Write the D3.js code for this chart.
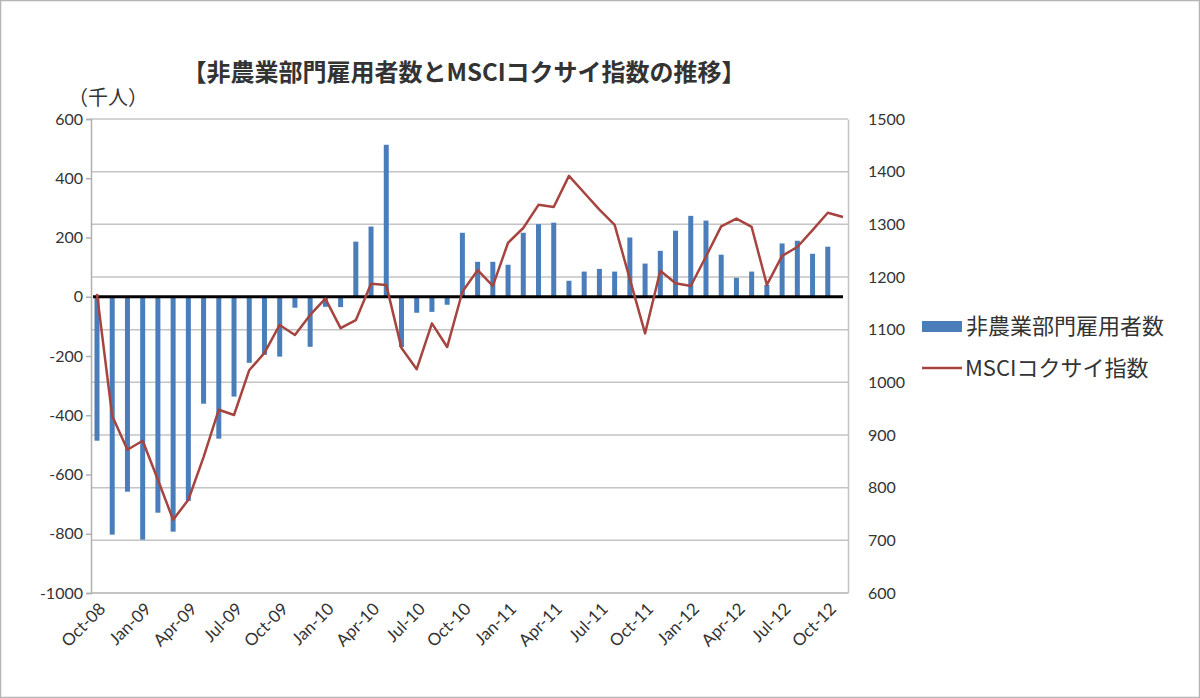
<!DOCTYPE html>
<html>
<head>
    <meta charset="utf-8">
    <script src="https://d3js.org/d3.v7.min.js"></script>
    <title>非農業部門雇用者数とMSCIコクサイ指数の推移</title>
    <style>
        body { margin: 0; background: #fff; }
        svg text { font-family: Lato, "Noto Sans", sans-serif; fill: #333; }
        .jp { font-family: "Noto Sans CJK JP", sans-serif; }
    </style>
</head>
<body>
<svg id="chart"></svg>
<script>
    // months on the category axis
    var months = ["Oct-08","Nov-08","Dec-08",
        "Jan-09","Feb-09","Mar-09","Apr-09","May-09","Jun-09","Jul-09","Aug-09","Sep-09","Oct-09","Nov-09","Dec-09",
        "Jan-10","Feb-10","Mar-10","Apr-10","May-10","Jun-10","Jul-10","Aug-10","Sep-10","Oct-10","Nov-10","Dec-10",
        "Jan-11","Feb-11","Mar-11","Apr-11","May-11","Jun-11","Jul-11","Aug-11","Sep-11","Oct-11","Nov-11","Dec-11",
        "Jan-12","Feb-12","Mar-12","Apr-12","May-12","Jun-12","Jul-12","Aug-12","Sep-12","Oct-12","Nov-12"]

    // 非農業部門雇用者数 (千人), Oct-08 .. Oct-12
    var payrolls = [-486,-803,-658,
        -820,-729,-793,-689,-361,-479,-337,-223,-196,-202,-37,-169,
        -34,-35,186,237,513,-170,-54,-51,-27,216,118,118,
        108,216,245,250,54,85,94,85,200,112,155,223,
        273,257,142,64,85,40,180,189,145,169]

    // MSCIコクサイ指数, Oct-08 .. Nov-12
    var msci = [1168,936,872,
        889,815,739,777,858,948,938,1023,1056,1109,1090,1128,
        1159,1103,1118,1187,1185,1065,1025,1112,1067,1172,1213,1183,
        1265,1293,1337,1333,1392,1360,1328,1299,1196,1093,1212,1188,
        1183,1239,1296,1311,1295,1185,1240,1257,1289,1322,1314]

    var leftTicks = [-1000,-800,-600,-400,-200,0,200,400,600]
    var rightTicks = [600,700,800,900,1000,1100,1200,1300,1400,1500]
    var xTickLabels = ["Oct-08","Jan-09","Apr-09","Jul-09","Oct-09","Jan-10","Apr-10","Jul-10","Oct-10",
        "Jan-11","Apr-11","Jul-11","Oct-11","Jan-12","Apr-12","Jul-12","Oct-12"]

    var W = 1200, H = 698
    var svg = d3.select("#chart").attr("width", W).attr("height", H)

    svg.append("rect").attr("x", 0.5).attr("y", 0.5).attr("width", W - 1).attr("height", H - 1)
        .attr("fill", "#fff").attr("stroke", "#b5b5b5").attr("stroke-width", 1.5)

    var plot = {left: 91, right: 848, top: 119, bottom: 593}

    var x = d3.scalePoint().domain(months).range([97, 843])
    var yL = d3.scaleLinear().domain([-1000, 600]).range([plot.bottom, plot.top])
    var yR = d3.scaleLinear().domain([600, 1500]).range([plot.bottom, plot.top])
    var plain = d => String(d)

    // gridlines follow the right axis
    svg.append("g").selectAll("line").data(rightTicks.slice(1)).join("line")
        .attr("x1", plot.left).attr("x2", plot.right)
        .attr("y1", d => yR(d)).attr("y2", d => yR(d))
        .attr("stroke", "#c4c4c4").attr("stroke-width", 1.5)

    // left axis
    var gL = svg.append("g").attr("transform", "translate(" + plot.left + ",0)")
        .call(d3.axisLeft(yL).tickValues(leftTicks).tickFormat(plain).tickSize(5).tickPadding(3))
    gL.select(".domain").attr("stroke", "#b0b0b0").attr("stroke-width", 1.5)
    gL.selectAll(".tick line").attr("stroke", "#b0b0b0").attr("stroke-width", 1.5)
    gL.selectAll("text").attr("font-size", 16).attr("fill", "#333")

    // right axis
    var gR = svg.append("g").attr("transform", "translate(" + plot.right + ",0)")
        .call(d3.axisRight(yR).tickValues(rightTicks).tickFormat(plain).tickSize(0).tickPadding(20))
    gR.select(".domain").attr("stroke", "#c4c4c4").attr("stroke-width", 1.5)
    gR.selectAll("text").attr("font-size", 16).attr("fill", "#333")

    // bottom axis line
    svg.append("line").attr("x1", plot.left).attr("x2", plot.right)
        .attr("y1", plot.bottom).attr("y2", plot.bottom)
        .attr("stroke", "#b0b0b0").attr("stroke-width", 1.5)

    var gX = svg.append("g").attr("transform", "translate(0," + (plot.bottom + 8) + ")")
        .call(d3.axisBottom(x).tickValues(xTickLabels).tickSize(0).tickPadding(0))
    gX.select(".domain").remove()
    gX.selectAll("text")
        .attr("font-size", 17).attr("fill", "#333")
        .attr("text-anchor", "end")
        .attr("dy", "0.75em").attr("dx", "0")
        .attr("transform", "rotate(-45)")

    // bars
    var bw = 5
    svg.append("g").selectAll("rect").data(payrolls).join("rect")
        .attr("x", (d, i) => x(months[i]) - bw / 2)
        .attr("width", bw)
        .attr("y", d => Math.min(yL(d), yL(0)))
        .attr("height", d => Math.abs(yL(d) - yL(0)))
        .attr("fill", "#4a7ebb")

    // zero line
    svg.append("line").attr("x1", 93).attr("x2", 843)
        .attr("y1", yL(0)).attr("y2", yL(0))
        .attr("stroke", "#000").attr("stroke-width", 3)

    // MSCI line
    var line = d3.line().x((d, i) => x(months[i])).y(d => yR(d))
    svg.append("path").datum(msci).attr("d", line)
        .attr("fill", "none").attr("stroke", "#a6443f").attr("stroke-width", 2.5)
        .attr("stroke-linejoin", "round")

    // title
    svg.append("text").attr("class", "jp").attr("x", 464).attr("y", 81)
        .attr("text-anchor", "middle").attr("font-size", 24).attr("font-weight", 700)
        .attr("fill", "#222").text("【非農業部門雇用者数とMSCIコクサイ指数の推移】")

    // unit label
    svg.append("text").attr("class", "jp").attr("x", 68).attr("y", 105)
        .attr("font-size", 20).attr("fill", "#333").text("（千人）")

    // legend
    var lg = svg.append("g")
    lg.append("rect").attr("x", 922).attr("y", 321).attr("width", 40).attr("height", 11).attr("fill", "#4a7ebb")
    lg.append("text").attr("class", "jp").attr("x", 966).attr("y", 334)
        .attr("font-size", 22).attr("fill", "#222").text("非農業部門雇用者数")
    lg.append("line").attr("x1", 922).attr("x2", 962).attr("y1", 368).attr("y2", 368)
        .attr("stroke", "#a6443f").attr("stroke-width", 2.5)
    lg.append("text").attr("class", "jp").attr("x", 965).attr("y", 376)
        .attr("font-size", 22).attr("fill", "#222").text("MSCIコクサイ指数")
</script>
</body>
</html>
